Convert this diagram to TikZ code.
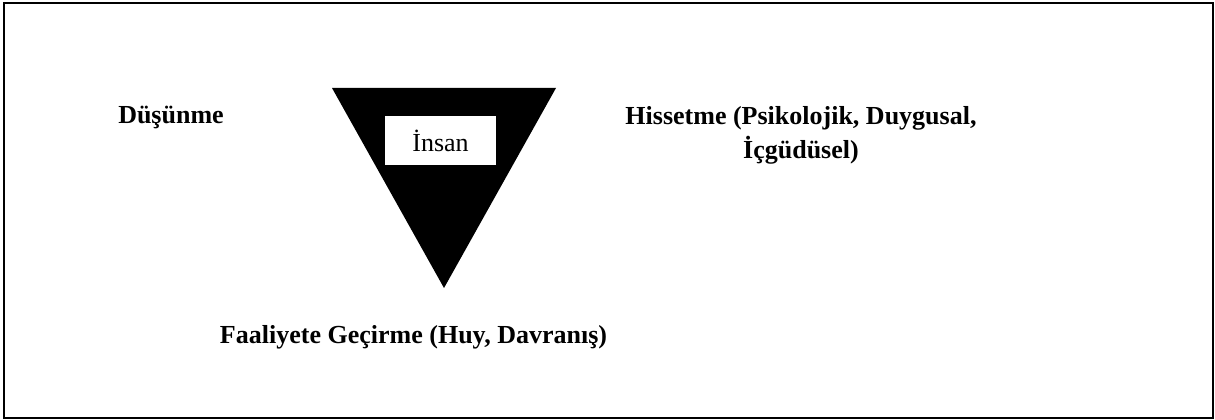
\documentclass[tikz,border=0pt]{standalone}
\usepackage{fontspec}
\setmainfont{Liberation Serif}
\begin{document}
\begin{tikzpicture}[
    x=0.75pt, y=-0.75pt,
    label/.style={font=\fontsize{19.5}{26}\selectfont\bfseries, inner sep=0pt, align=center},
    core/.style={fill=white, inner sep=0pt, minimum width=83.25pt, minimum height=36.75pt,
                 font=\fontsize{19.5}{24}\selectfont},
    frame/.style={draw, line width=1.5pt}
]
\useasboundingbox (0,0) rectangle (1215,420);
\draw[frame] (4,3) rectangle (1213,418);

% Triangle
\fill (332,88) -- (556,88) -- (444,288) -- cycle;
\node[core] (insan) at (440.5,140.5) {İnsan};

% Labels
\node[label, anchor=base] (dusunme) at (171,124) {Düşünme};
\node[label, anchor=base] (hissetme) at (801,159) {Hissetme (Psikolojik, Duygusal,\\ İçgüdüsel)};
\node[label, anchor=base] (faaliyet) at (413.5,344) {Faaliyete Geçirme (Huy, Davranış)};

\end{tikzpicture}
\end{document}
